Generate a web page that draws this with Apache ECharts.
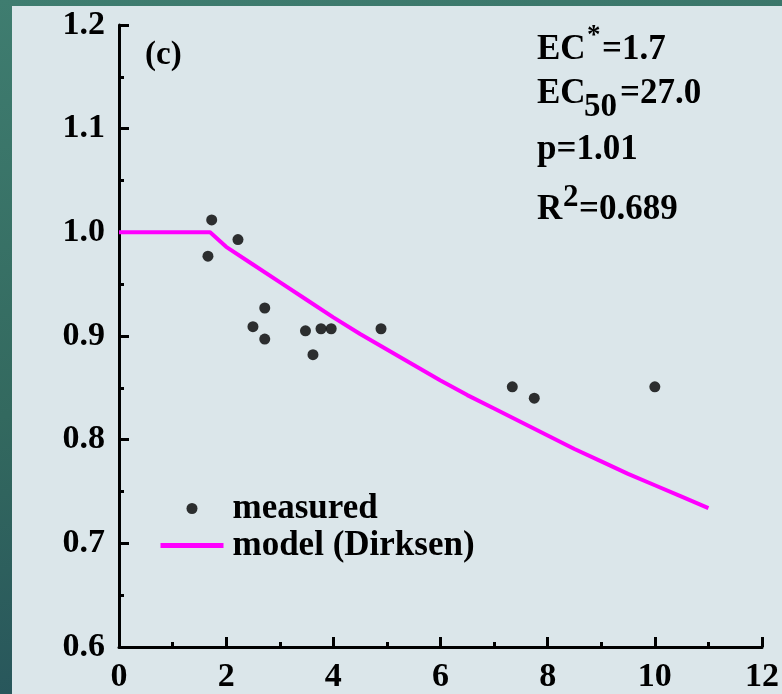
<!DOCTYPE html>
<html>
<head>
<meta charset="utf-8">
<script src="https://cdn.jsdelivr.net/npm/echarts@6/dist/echarts.min.js"></script>
<style>
  html, body { margin: 0; padding: 0; }
  body { width: 782px; height: 694px; position: relative; overflow: hidden;
         background: linear-gradient(170deg, #3f7d70 0%, #33695f 50%, #234e5a 100%); }
  #panel { position: absolute; left: 12px; top: 6px; width: 770px; height: 688px; background: #dbe6ea; }
  #main { position: absolute; left: 0; top: 0; width: 782px; height: 694px; }
</style>
</head>
<body>
<div id="panel"></div>
<div id="main"></div>
<script>
// ---- data ----
const measuredX = [1.66, 1.73, 2.22, 2.50, 2.72, 2.72, 3.48, 3.62, 3.77, 3.96, 4.89, 7.34, 7.75, 10.0];
const measuredY = [0.977, 1.012, 0.993, 0.909, 0.927, 0.897, 0.905, 0.882, 0.907, 0.907, 0.907, 0.851, 0.840, 0.851];
const modelX = [0, 1.7, 2, 2.5, 3, 3.5, 4, 4.5, 5, 5.5, 6, 6.5, 7, 7.5, 8, 8.5, 9, 9.5, 10, 10.5, 11];
const modelY = [1.0, 1.0, 0.986, 0.969, 0.952, 0.935, 0.918, 0.902, 0.887, 0.872, 0.857, 0.843, 0.830, 0.817, 0.804, 0.791, 0.779, 0.767, 0.756, 0.745, 0.734];
const xTicks = [0, 2, 4, 6, 8, 10, 12];
const yTicks = [0.6, 0.7, 0.8, 0.9, 1.0, 1.1, 1.2];
const seriesNames = ['measured', 'model (Dirksen)'];

const FONT = '"Liberation Serif", "Times New Roman", serif';
const chart = echarts.init(document.getElementById('main'), null, { renderer: 'canvas' });

function txt(text, x, y, size) {
  return { type: 'text', left: x, top: y - size / 2, z: 100,
    style: { text: text, font: 'bold ' + size + 'px ' + FONT, fill: '#000' } };
}

const option = {
  backgroundColor: 'transparent',
  animation: false,
  grid: { left: 119, right: 16, top: 25, bottom: 47, containLabel: false },
  xAxis: {
    type: 'value', min: xTicks[0], max: xTicks[xTicks.length - 1], interval: 2,
    axisLine: { show: true, onZero: false, lineStyle: { color: '#000', width: 3 } },
    axisTick: { show: true, inside: true, length: 10, lineStyle: { color: '#000', width: 3 } },
    minorTick: { show: true, splitNumber: 2, length: 5, lineStyle: { color: '#000', width: 3 } },
    splitLine: { show: false },
    axisLabel: { margin: 13, color: '#000', fontFamily: FONT, fontWeight: 'bold', fontSize: 34 }
  },
  yAxis: {
    type: 'value', min: yTicks[0], max: yTicks[yTicks.length - 1], interval: 0.1,
    axisLine: { show: true, onZero: false, lineStyle: { color: '#000', width: 3 } },
    axisTick: { show: true, inside: true, length: 10, lineStyle: { color: '#000', width: 3 } },
    minorTick: { show: true, splitNumber: 2, length: 5, lineStyle: { color: '#000', width: 3 } },
    splitLine: { show: false },
    axisLabel: { margin: 14, color: '#000', fontFamily: FONT, fontWeight: 'bold', fontSize: 34,
      formatter: function (v) { return v.toFixed(1); } }
  },
  legend: {
    orient: 'vertical', left: 158, top: 491, padding: 0, itemWidth: 63, itemHeight: 11, itemGap: 2,
    data: [
      { name: seriesNames[0] },
      { name: seriesNames[1], itemStyle: { color: 'rgba(0,0,0,0)', opacity: 0 }, lineStyle: { width: 5, color: '#ff00ff' } }
    ],
    textStyle: { color: '#000', fontFamily: FONT, fontWeight: 'bold', fontSize: 35, padding: [0, 0, 0, 4] }
  },
  series: [
    {
      name: seriesNames[0], type: 'scatter', symbol: 'circle', symbolSize: 11,
      itemStyle: { color: '#000' },
      data: measuredX.map((x, i) => [x, measuredY[i]]), z: 5
    },
    {
      name: seriesNames[1], type: 'line', symbol: 'none', showSymbol: false,
      lineStyle: { color: '#ff00ff', width: 4 }, itemStyle: { color: '#ff00ff' },
      data: modelX.map((x, i) => [x, modelY[i]]), z: 4
    }
  ],
  graphic: [
    txt('(c)', 145, 55, 33),
    txt('EC', 537, 50, 35), txt('*', 587, 36, 27), txt('=1.7', 602, 50, 35),
    txt('EC', 537, 94, 35), txt('50', 584, 107, 33), txt('=27.0', 620, 94, 35),
    txt('p=1.01', 537, 150, 35),
    txt('R', 537, 210, 35), txt('2', 563, 198, 31), txt('=0.689', 579, 210, 35)
  ]
};
chart.setOption(option);
</script>
</body>
</html>
